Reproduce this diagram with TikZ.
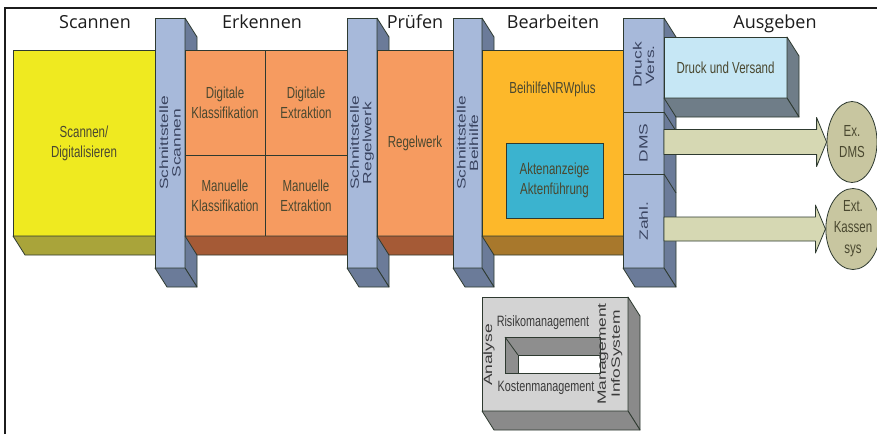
\documentclass[tikz,border=0pt]{standalone}
\usepackage{fontspec}
\setmainfont{Open Sans}
\newfontfamily\boxfont[FakeStretch=0.72]{Liberation Sans}
\newfontfamily\sidefont[FakeStretch=1.45]{Liberation Sans}
\usepackage{tikz}
\usetikzlibrary{
  positioning,
  calc,
  shapes.geometric
}
\definecolor{edgecol}{HTML}{2E3A30}
\definecolor{framecol}{HTML}{1C1C1C}
\definecolor{txtcol}{HTML}{4A4830}
\definecolor{pillartxt}{HTML}{3A4460}
\definecolor{yellowf}{HTML}{EFEA20}
\definecolor{yellowb}{HTML}{A9A43A}
\definecolor{orangef}{HTML}{F69B60}
\definecolor{orangeb}{HTML}{A55A36}
\definecolor{amberf}{HTML}{FDB82A}
\definecolor{amberb}{HTML}{A8782C}
\definecolor{pillarf}{HTML}{A7B9DA}
\definecolor{pillars}{HTML}{6B7B99}
\definecolor{cyanf}{HTML}{3BB3CF}
\definecolor{lightbf}{HTML}{C6E7F5}
\definecolor{greys}{HTML}{6F7D88}
\definecolor{arrowf}{HTML}{D6D8B3}
\definecolor{ellf}{HTML}{C8C6A0}
\definecolor{grayf}{HTML}{D3D3D3}
\definecolor{grays}{HTML}{8A8A8A}
\definecolor{holecol}{HTML}{8E8E8E}
\definecolor{mistxt}{HTML}{3A3A3A}

\tikzstyle{block}=[draw=edgecol, line width=0.8pt, inner sep=0pt, outer sep=0pt, anchor=north west, align=center, font={\fontsize{16}{20}\boxfont}, text=txtcol]
\tikzstyle{pillar}=[block, fill=pillarf]
\tikzstyle{sideface}=[draw=edgecol, line width=0.8pt, line join=round]
\tikzstyle{vtext}=[rotate=90, align=center, inner sep=0pt, font={\fontsize{12}{12.5}\sidefont}, text=pillartxt]
\tikzstyle{headline}=[anchor=base, inner sep=0pt, font={\fontsize{18}{20}\selectfont}, text=framecol]
\tikzstyle{fatarrow}=[draw=edgecol, line width=0.8pt, fill=arrowf, line join=round]
\tikzstyle{extsys}=[ellipse, draw=edgecol, line width=0.8pt, fill=ellf, inner sep=0pt, align=center, font={\fontsize{16}{21}\boxfont}, text=txtcol]
\tikzstyle{mistext}=[inner sep=0pt, align=center, font={\fontsize{15}{17}\boxfont}, text=mistxt]

% 下面 (左ノード, 右ノード, 色)
\newcommand{\bottomface}[3]{%
  \draw[sideface, fill=#3] (#1.south west) -- (#2.south east) -- ++(\dpx,\dpy)
    -- ($(#1.south west)+(\dpx,\dpy)$) -- cycle;}
% 右側面 (上ノード, 下ノード, 色)
\newcommand{\rightface}[3]{%
  \draw[sideface, fill=#3] (#1.north east) -- ++(\dpx,\dpy)
    -- ($(#2.south east)+(\dpx,\dpy)$) -- (#2.south east) -- cycle;}

\begin{document}
\begin{tikzpicture}[x=1pt, y=-1pt]
    \def\dpx{12} % 奥行き x
    \def\dpy{19} % 奥行き y
    \useasboundingbox[fill=white] (0,0) rectangle (877,434);

    % 枠線
    \draw[line width=2pt, draw=framecol] (5,434) -- (5,8) -- (877,8);

    % 見出し
    \node[headline] (h-scan) at (95,28) {Scannen};
    \node[headline] (h-erk) at (262,28) {Erkennen};
    \node[headline] (h-pruef) at (415,28) {Prüfen};
    \node[headline] (h-bearb) at (553,28) {Bearbeiten};
    \node[headline] (h-ausg) at (775,28) {Ausgeben};

    % Scannen
    \node[block, fill=yellowf, minimum width=142pt, minimum height=186pt] (scan) at (13,50) {Scannen/\\Digitalisieren};
    \bottomface{scan}{scan}{yellowb}

    % Schnittstelle Scannen
    \node[pillar, minimum width=30pt, minimum height=250pt] (if-scan) at (155,18) {};
    \rightface{if-scan}{if-scan}{pillars}
    \bottomface{if-scan}{if-scan}{pillars}
    \node[vtext] (if-scan-t) at (if-scan) {Schnittstelle\\Scannen};

    % Erkennen
    \node[block, fill=orangef, minimum width=80pt, minimum height=105pt] (dig-kl) at (185,50) {Digitale\\Klassifikation};
    \node[block, fill=orangef, minimum width=82pt, minimum height=105pt, right=0pt of dig-kl] (dig-ex) {Digitale\\Extraktion};
    \node[block, fill=orangef, minimum width=80pt, minimum height=81pt, below=0pt of dig-kl] (man-kl) {Manuelle\\Klassifikation};
    \node[block, fill=orangef, minimum width=82pt, minimum height=81pt, below=0pt of dig-ex] (man-ex) {Manuelle\\Extraktion};
    \bottomface{man-kl}{man-ex}{orangeb}

    % Schnittstelle Regelwerk
    \node[pillar, minimum width=30pt, minimum height=250pt] (if-rw) at (347,18) {};
    \rightface{if-rw}{if-rw}{pillars}
    \bottomface{if-rw}{if-rw}{pillars}
    \node[vtext] (if-rw-t) at (if-rw) {Schnittstelle\\Regelwerk};

    % Regelwerk
    \node[block, fill=orangef, minimum width=76pt, minimum height=186pt] (rw) at (377,50) {Regelwerk};
    \bottomface{rw}{rw}{orangeb}

    % Schnittstelle Beihilfe
    \node[pillar, minimum width=29pt, minimum height=250pt] (if-bh) at (453,18) {};
    \rightface{if-bh}{if-bh}{pillars}
    \bottomface{if-bh}{if-bh}{pillars}
    \node[vtext] (if-bh-t) at (if-bh) {Schnittstelle\\Beihilfe};

    % BeihilfeNRWplus
    \node[block, fill=amberf, minimum width=141pt, minimum height=186pt] (bh) at (482,50) {};
    \bottomface{bh}{bh}{amberb}
    \node[block, draw=none, anchor=base] (bh-t) at ($(bh.north)+(0,43)$) {BeihilfeNRWplus};
    \node[block, fill=cyanf, minimum width=97pt, minimum height=75pt] (akt) at (506,143) {Aktenanzeige\\Aktenführung};

    % Ausgabe-Schnittstellen
    \node[pillar, minimum width=41pt, minimum height=94pt] (dv) at (623,18) {};
    \node[pillar, minimum width=41pt, minimum height=62pt, below=0pt of dv] (dms) {};
    \node[pillar, minimum width=41pt, minimum height=94pt, below=0pt of dms] (zahl) {};
    \rightface{dv}{zahl}{pillars}
    \draw[sideface] (dms.north east) -- ++(\dpx,\dpy);
    \draw[sideface] (zahl.north east) -- ++(\dpx,\dpy);
    \bottomface{zahl}{zahl}{pillars}
    \node[vtext] (dv-t) at (dv) {Druck\\Vers.};
    \node[vtext] (dms-t) at (dms) {DMS};
    \node[vtext] (zahl-t) at (zahl) {Zahl.};

    % Druck und Versand
    \node[block, fill=lightbf, minimum width=123pt, minimum height=61pt] (druck) at (664,37) {Druck und Versand};
    \rightface{druck}{druck}{greys}
    \bottomface{druck}{druck}{greys}

    % externe Systeme
    \node[extsys, minimum width=50pt, minimum height=81pt] (ex-dms) at (852,142) {Ex.\\DMS};
    \node[extsys, minimum width=52pt, minimum height=81pt] (ex-kas) at (853,229) {Ext.\\Kassen\\sys};

    % Pfeile
    \draw[fatarrow] ($(dms.east |- ex-dms.west)+(0,-12.5)$) -- ($(ex-dms.west)+(-10,-12.5)$)
      -- ($(ex-dms.west)+(-10,-24.5)$) -- (ex-dms.west) -- ($(ex-dms.west)+(-10,24.5)$)
      -- ($(ex-dms.west)+(-10,12.5)$) -- ($(dms.east |- ex-dms.west)+(0,12.5)$) -- cycle;
    \draw[fatarrow] ($(zahl.east |- ex-kas.west)+(0,-12)$) -- ($(ex-kas.west)+(-10,-12)$)
      -- ($(ex-kas.west)+(-10,-24)$) -- (ex-kas.west) -- ($(ex-kas.west)+(-10,24)$)
      -- ($(ex-kas.west)+(-10,12)$) -- ($(zahl.east |- ex-kas.west)+(0,12)$) -- cycle;

    % Management InfoSystem
    \node[block, fill=grayf, minimum width=146pt, minimum height=114pt] (mis) at (482,297) {};
    \rightface{mis}{mis}{grays}
    \bottomface{mis}{mis}{grays}
    \node[block, fill=holecol, minimum width=95pt, minimum height=36pt] (hole) at (505,337) {};
    \draw[sideface, fill=white] ($(hole.south west)+(13,0)$) |- ($(hole.south east)+(0,-18)$) -- (hole.south east) -- cycle;
    \draw[sideface] (hole.north west) -- ($(hole.south west)+(13,-18)$);
    \node[mistext] (risk) at (543,323) {Risikomanagement};
    \node[mistext] (kost) at (546,388) {Kostenmanagement};
    \node[vtext, text=mistxt] (analyse) at (489,355) {Analyse};
    \node[vtext, text=mistxt, font={\fontsize{12}{14}\sidefont}] (mis-t) at (610,354) {Management\\InfoSystem};
\end{tikzpicture}
\end{document}
